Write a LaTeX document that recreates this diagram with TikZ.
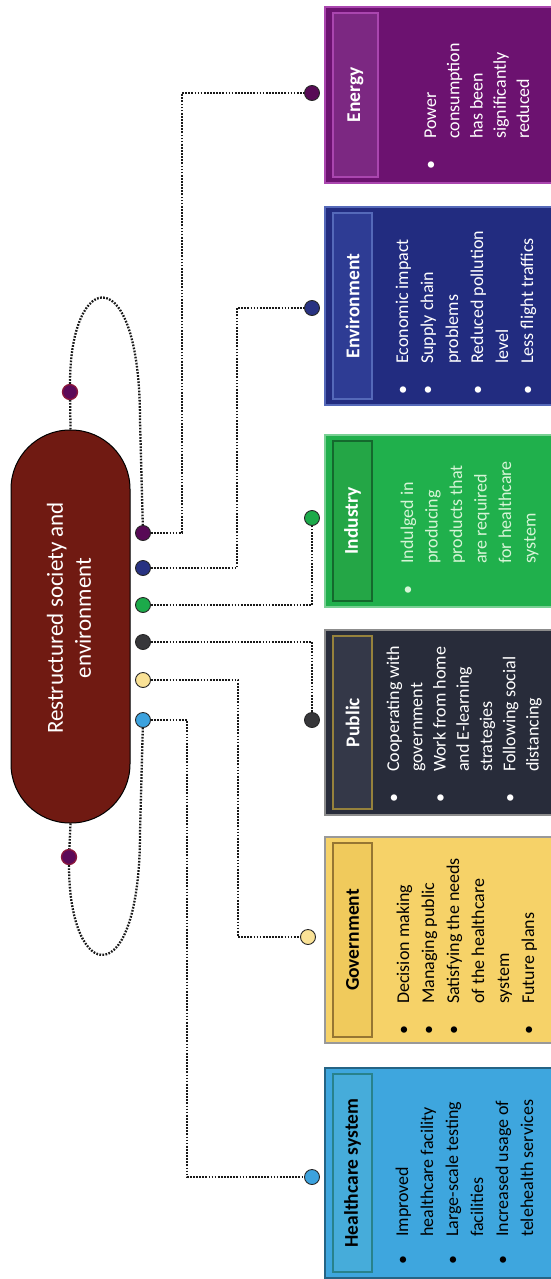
\documentclass[tikz,border=0pt]{standalone}
\usepackage{fontspec}
\setmainfont{Carlito}
\usetikzlibrary{calc}

% palette
\definecolor{coreFill}{RGB}{112,26,18}
\definecolor{loopPurple}{RGB}{92,10,88}
\definecolor{loopRim}{RGB}{140,24,60}
\definecolor{dPurple}{RGB}{88,10,86}
\definecolor{dNavy}{RGB}{40,50,130}
\definecolor{dGreen}{RGB}{28,170,74}
\definecolor{dGray}{RGB}{55,55,58}
\definecolor{dYellow}{RGB}{250,226,150}
\definecolor{dBlue}{RGB}{60,162,222}
\definecolor{enBox}{RGB}{108,18,112}
\definecolor{enHead}{RGB}{124,40,130}
\definecolor{enRim}{RGB}{170,70,175}
\definecolor{evBox}{RGB}{34,44,128}
\definecolor{evHead}{RGB}{46,60,148}
\definecolor{evRim}{RGB}{85,105,185}
\definecolor{inBox}{RGB}{32,176,76}
\definecolor{inHead}{RGB}{36,166,70}
\definecolor{inRim}{RGB}{20,105,45}
\definecolor{inText}{RGB}{215,245,215}
\definecolor{puBox}{RGB}{40,44,58}
\definecolor{puHead}{RGB}{52,56,72}
\definecolor{puRim}{RGB}{150,130,60}
\definecolor{goBox}{RGB}{246,210,104}
\definecolor{goHead}{RGB}{240,202,92}
\definecolor{goRim}{RGB}{150,118,50}
\definecolor{hcBox}{RGB}{62,166,222}
\definecolor{hcHead}{RGB}{70,172,218}
\definecolor{hcRim}{RGB}{40,130,140}

\newcommand{\itemdot}{\makebox[8pt][c]{\textbullet}}

\tikzset{
  conn/.style={draw=black!90, line width=2.3pt, dash pattern=on 1.7pt off 1.4pt},
  dot/.style={circle, draw=black!85, line width=0.9pt, minimum size=15pt, inner sep=0pt},
  loopdot/.style={circle, fill=loopPurple, draw=loopRim, line width=1.3pt, minimum size=15pt, inner sep=0pt},
  panel/.style={rectangle, line width=1.4pt, inner sep=0pt},
  header/.style={rectangle, rotate=90, line width=1.2pt, inner sep=0pt, minimum height=39pt,
                 font=\fontsize{19.5pt}{22pt}\selectfont\bfseries},
  body/.style={rotate=90, anchor=base west, inner sep=0pt, font=\fontsize{18pt}{25pt}\selectfont},
}

\begin{document}
\begin{tikzpicture}[x=1pt,y=-1pt]
\useasboundingbox (0,0) rectangle (550,1279);

% central element
\node[draw=black, line width=1pt, fill=coreFill, rounded corners=59pt,
      minimum width=119pt, minimum height=393pt, inner sep=0pt] (core) at (70.5,626.5) {};
\node[rotate=90, text=white, align=center, font=\fontsize{23pt}{28pt}\selectfont] (coreTxt) at (69,618)
  {Restructured society and\\environment};

% ports on the central element
\node[dot, fill=dPurple] (pP) at (143,533) {};
\node[dot, fill=dNavy]   (pN) at (143,568) {};
\node[dot, fill=dGreen]  (pG) at (143,605) {};
\node[dot, fill=dGray]   (pK) at (143,642) {};
\node[dot, fill=dYellow] (pY) at (143,680) {};
\node[dot, fill=dBlue]   (pB) at (143,720) {};

% loop markers
\node[loopdot] (lpA) at (70,392) {};
\node[loopdot] (lpB) at (69,857) {};

% panels
\node[panel, fill=enBox, draw=enRim, minimum width=235pt, minimum height=176pt] (enBox) at (442.5,95) {};
\node[panel, fill=evBox, draw=evRim, minimum width=235pt, minimum height=198pt] (evBox) at (442.5,306) {};
\node[panel, fill=inBox, draw=inBox!60!white, minimum width=235pt, minimum height=172pt] (inBox) at (442.5,521) {};
\node[panel, fill=puBox, draw=black!45, minimum width=235pt, minimum height=185pt] (puBox) at (442.5,722.5) {};
\node[panel, fill=goBox, draw=black!40, minimum width=235pt, minimum height=206pt] (goBox) at (442.5,940) {};
\node[panel, fill=hcBox, draw=hcBox!60!black, minimum width=235pt, minimum height=210pt] (hcBox) at (442.5,1173) {};

% panel headers
\node[header, fill=enHead, draw=enRim, text=white, minimum width=164pt, minimum height=45pt] (enHead) at (355.5,95) {Energy};
\node[header, fill=evHead, draw=evRim, text=white, minimum width=186pt] (evHead) at (352.5,306) {Environment};
\node[header, fill=inHead, draw=inRim, text=white, minimum width=160pt] (inHead) at (352.5,521) {Industry};
\node[header, fill=puHead, draw=puRim, text=white, minimum width=173pt] (puHead) at (352.5,722.5) {Public};
\node[header, fill=goHead, draw=goRim, text=black, minimum width=194pt] (goHead) at (352.5,940) {Government};
\node[header, fill=hcHead, draw=hcRim, text=black, minimum width=198pt] (hcHead) at (352.5,1173) {Healthcare system};

% panel texts
\node[body, text=white] (enTxt) at (436,169) {%
  \renewcommand{\arraystretch}{0.93}%
  \begin{tabular}[t]{@{}l@{\hspace{22pt}}l@{}}
  \itemdot & Power\\ & consumption\\ & has been\\ & significantly\\ & reduced
  \end{tabular}};
\node[body, text=white] (evTxt) at (408,394) {%
  \begin{tabular}[t]{@{}l@{\hspace{22pt}}l@{}}
  \itemdot & Economic impact\\ \itemdot & Supply chain\\ & problems\\
  \itemdot & Reduced pollution\\ & level\\ \itemdot & Less flight traffics
  \end{tabular}};
\node[body, text=inText] (inTxt) at (413,594) {%
  \renewcommand{\arraystretch}{0.98}%
  \begin{tabular}[t]{@{}l@{\hspace{22pt}}l@{}}
  \itemdot & Indulged in\\ & producing\\ & products that\\ & are required\\ & for healthcare\\ & system
  \end{tabular}};
\node[body, text=white] (puTxt) at (399,802) {%
  \renewcommand{\arraystretch}{0.93}%
  \begin{tabular}[t]{@{}l@{\hspace{22pt}}l@{}}
  \itemdot & Cooperating with\\ & government\\ \itemdot & Work from home\\ & and E-learning\\
  & strategies\\ \itemdot & Following social\\ & distancing
  \end{tabular}};
\node[body, text=black] (goTxt) at (409,1034) {%
  \begin{tabular}[t]{@{}l@{\hspace{22pt}}l@{}}
  \itemdot & Decision making\\ \itemdot & Managing public\\ \itemdot & Satisfying the needs\\
  & of the healthcare\\ & system\\ \itemdot & Future plans
  \end{tabular}};
\node[body, text=black] (hcTxt) at (408,1264) {%
  \begin{tabular}[t]{@{}l@{\hspace{19pt}}l@{}}
  \itemdot & Improved\\ & healthcare facility\\ \itemdot & Large-scale testing\\ & facilities\\
  \itemdot & Increased usage of\\ & telehealth services
  \end{tabular}};

% end markers beside the panels
\node[dot, fill=dPurple] (eP) at (312,93) {};
\node[dot, fill=dNavy]   (eN) at (312,308) {};
\node[dot, fill=dGreen]  (eG) at (312,518) {};
\node[dot, fill=dGray]   (eK) at (312,720) {};
\node[dot, fill=dYellow] (eY) at (308,937) {};
\node[dot, fill=dBlue]   (eB) at (312,1177) {};

% connectors
\draw[conn] (pP) -- ++(39,0) |- (eP);
\draw[conn] (pN) -- ++(94,0) |- (eN);
\draw[conn] (pG) -| (eG);
\draw[conn] (pK) -| (eK);
\draw[conn] (pY) -- ++(95,0) |- (eY);
\draw[conn] (pB) -- ++(44,0) |- (eB);

% loops above and below the central element
\draw[conn] (core.north) -- (lpA);
\draw[conn] (lpA) .. controls (70,268) and (140,258) .. (140,420) -- (pP);
\draw[conn] (core.south) -- (lpB);
\draw[conn] (lpB) .. controls (69,985) and (140,995) .. (140,833) -- (pB);
\end{tikzpicture}
\end{document}
